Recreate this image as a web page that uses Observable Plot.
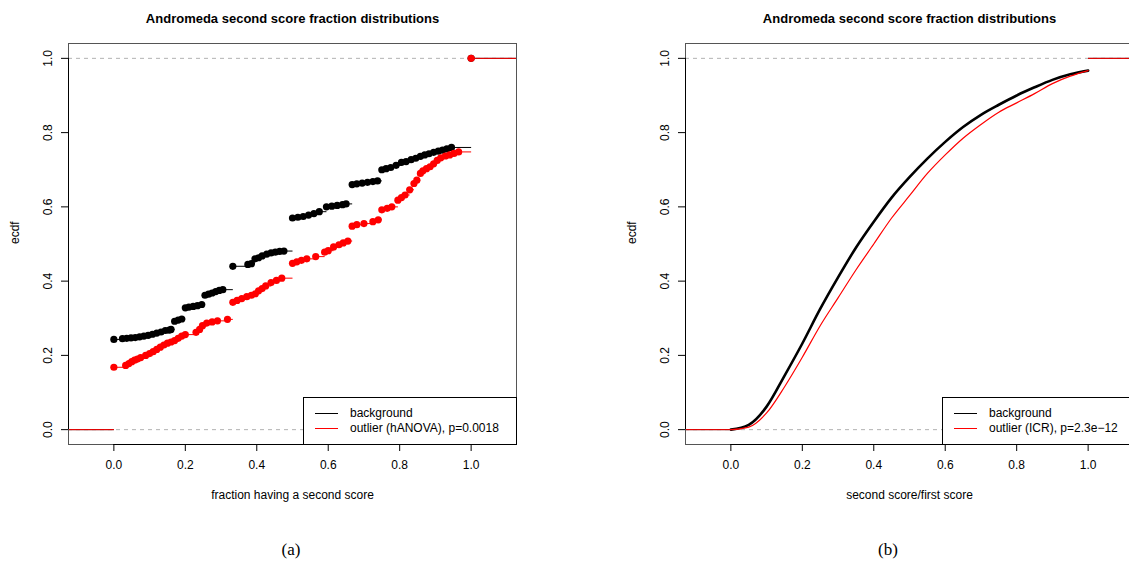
<!DOCTYPE html>
<html><head><meta charset="utf-8">
<script src="https://cdn.jsdelivr.net/npm/d3@7"></script>
<script src="https://cdn.jsdelivr.net/npm/@observablehq/plot@0.6"></script>
<style>
html,body{margin:0;padding:0;background:#fff;}
body{width:1129px;height:566px;overflow:hidden;position:relative;font-family:"Liberation Sans",Arial,sans-serif;}
.panel{position:absolute;top:0;width:564px;height:520px;}
.panel svg{max-width:none !important;width:564px;height:520px;}
.legend{position:absolute;border:1px solid #000;background:#fff;box-sizing:border-box;font-size:12px;z-index:2;}
.legend .ln{position:absolute;height:0;border-top:1px solid;}
.legend .tx{position:absolute;white-space:nowrap;line-height:14px;}
.cap{position:absolute;font-family:"Liberation Serif","Times New Roman",serif;font-size:17px;transform:translate(-50%,-50%);}
</style>
</head><body>
<script>
// ---------- data ----------
const title = "Andromeda second score fraction distributions";
const xTicks = [0, 0.2, 0.4, 0.6, 0.8, 1.0];
const yTicks = [0, 0.2, 0.4, 0.6, 0.8, 1.0];

// panel (a): ecdf of fraction having a second score
const bgX = [0.000,0.024,0.036,0.048,0.060,0.072,0.084,0.096,0.108,0.120,0.132,0.144,0.155,0.160,
  0.170,0.180,0.190,0.200,0.210,0.222,0.234,0.246,0.255,0.265,0.275,0.285,0.295,0.305,
  0.333,0.375,0.385,0.395,0.405,0.415,0.428,0.440,0.452,0.464,0.476,
  0.500,0.515,0.530,0.545,0.560,0.575,0.595,0.610,0.625,0.640,0.650,
  0.667,0.680,0.695,0.710,0.725,0.738,0.750,0.762,0.775,0.790,0.805,0.818,0.832,0.845,
  0.858,0.870,0.882,0.895,0.908,0.920,0.932,0.945,1.000];
const bgY = [0.243,0.245,0.246,0.247,0.248,0.250,0.252,0.254,0.257,0.260,0.263,0.267,0.268,0.270,
  0.292,0.295,0.298,0.328,0.330,0.332,0.334,0.337,0.362,0.365,0.368,0.372,0.375,0.377,
  0.440,0.445,0.447,0.460,0.463,0.468,0.473,0.476,0.478,0.480,0.481,
  0.570,0.572,0.574,0.578,0.582,0.587,0.600,0.602,0.604,0.606,0.608,
  0.660,0.662,0.664,0.666,0.668,0.670,0.700,0.703,0.706,0.712,0.720,0.722,0.727,0.731,
  0.736,0.740,0.743,0.747,0.750,0.753,0.756,0.760,1.000];
const outX = [0.000,0.033,0.042,0.050,0.058,0.066,0.075,0.089,0.100,0.110,0.120,0.130,0.140,0.150,
  0.160,0.170,0.180,0.190,0.200,0.230,0.240,0.248,0.260,0.275,0.290,0.318,
  0.333,0.345,0.358,0.372,0.385,0.396,0.405,0.415,0.425,0.440,0.455,0.470,
  0.500,0.512,0.525,0.540,0.565,0.590,0.600,0.615,0.630,0.642,0.655,
  0.667,0.680,0.700,0.725,0.740,0.750,0.765,0.778,0.795,0.805,0.815,0.828,0.840,0.848,
  0.858,0.865,0.875,0.885,0.895,0.905,0.915,0.928,0.940,0.952,0.965,1.000];
const outY = [0.168,0.173,0.178,0.183,0.187,0.190,0.194,0.200,0.205,0.210,0.216,0.222,0.228,0.233,
  0.236,0.240,0.246,0.252,0.256,0.262,0.270,0.280,0.287,0.290,0.293,0.297,
  0.343,0.348,0.353,0.358,0.362,0.366,0.374,0.380,0.387,0.396,0.402,0.408,
  0.448,0.452,0.456,0.460,0.466,0.478,0.482,0.492,0.498,0.503,0.508,
  0.548,0.552,0.555,0.560,0.565,0.592,0.596,0.600,0.618,0.625,0.632,0.646,0.663,0.672,
  0.690,0.697,0.703,0.708,0.716,0.725,0.732,0.737,0.740,0.744,0.748,1.000];

// panel (b): ecdf of second score / first score
const ratioX = [0.00,0.05,0.10,0.15,0.20,0.25,0.30,0.35,0.40,0.45,0.50,0.55,0.60,0.65,0.70,0.75,0.80,0.85,0.90,0.95,1.00];
const bgRatioY  = [0.000,0.013,0.062,0.145,0.232,0.325,0.410,0.490,0.560,0.625,0.680,0.730,0.775,0.815,0.848,0.875,0.900,0.922,0.942,0.957,0.967];
const outRatioY = [0.000,0.007,0.045,0.115,0.195,0.280,0.355,0.430,0.500,0.570,0.630,0.690,0.740,0.785,0.822,0.855,0.880,0.905,0.932,0.952,0.967];

const legendA = ["background", "outlier (hANOVA), p=0.0018"];
const legendB = ["background", "outlier (ICR), p=2.3e\u221212"];
const colors = ["#000000", "#ff0000"];

// ---------- helpers ----------
const xDomain = [-0.127, 1.127];
const yDomain = [-0.04, 1.04];
const W = 564, H = 520;
const fmt = d3.format(".1f");

function stepSegs(xs, ys) {
  const segs = [{x1: xDomain[0], x2: xs[0], y: 0}];
  xs.forEach((x, i) => segs.push({x1: x, x2: i < xs.length - 1 ? xs[i + 1] : xDomain[1], y: ys[i]}));
  return segs;
}
function pts(xs, ys) { return xs.map((x, i) => ({x, y: ys[i]})); }

function basePlot(marks, xlabel) {
  return Plot.plot({
    width: W, height: H,
    marginLeft: 68, marginRight: 48, marginTop: 43, marginBottom: H - 444,
    x: {domain: xDomain},
    y: {domain: yDomain},
    style: {fontSize: "12px", fontFamily: "'Liberation Sans', Arial, sans-serif", color: "#000", background: "transparent", overflow: "visible", maxWidth: "none"},
    marks: [
      Plot.ruleY([0, 1], {stroke: "#b3b3b3", strokeDasharray: "4,4"}),
      ...marks,
      Plot.frame({stroke: "#555"}),
      Plot.ruleX([xDomain[0]], {y1: 0, y2: 1, stroke: "#000"}),
      Plot.ruleY([yDomain[0]], {x1: 0, x2: 1, stroke: "#000"}),
      Plot.axisX({ticks: xTicks, tickSize: 7, tickPadding: 9, tickFormat: fmt, label: null}),
      Plot.axisY({ticks: yTicks, tickSize: 7, tickPadding: 10, tickRotate: -90, tickFormat: fmt, label: null}),
      Plot.text([title], {frameAnchor: "top", dy: -30, fontWeight: "bold", fontSize: 13}),
      Plot.text([xlabel], {frameAnchor: "bottom", dy: 54}),
      Plot.text(["ecdf"], {frameAnchor: "left", dx: -53, rotate: -90})
    ]
  });
}

function addPanel(svg, left) {
  const d = document.createElement("div");
  d.className = "panel";
  d.style.left = left + "px";
  d.appendChild(svg);
  document.body.appendChild(d);
}
function addLegend(left, width, labels) {
  const d = document.createElement("div");
  d.className = "legend";
  d.style.left = left + "px"; d.style.top = "397px";
  d.style.width = width + "px"; d.style.height = "48px";
  labels.forEach((t, i) => {
    const l = document.createElement("div");
    l.className = "ln"; l.style.borderColor = colors[i];
    l.style.left = "11px"; l.style.width = "23px"; l.style.top = (15 + 15 * i) + "px";
    d.appendChild(l);
    const s = document.createElement("div");
    s.className = "tx"; s.textContent = t;
    s.style.left = "46px"; s.style.top = (8 + 15 * i) + "px";
    d.appendChild(s);
  });
  document.body.appendChild(d);
}
function addCap(text, x) {
  const d = document.createElement("div");
  d.className = "cap"; d.textContent = text;
  d.style.left = x + "px"; d.style.top = "550px";
  document.body.appendChild(d);
}

// ---------- panel (a) ----------
const marksA = [];
[[bgX, bgY], [outX, outY]].forEach(([xs, ys], i) => {
  marksA.push(Plot.link(stepSegs(xs, ys), {x1: "x1", x2: "x2", y1: "y", y2: "y", stroke: colors[i], strokeWidth: 1}));
  marksA.push(Plot.dot(pts(xs, ys), {x: "x", y: "y", r: 3.6, fill: colors[i], stroke: "none"}));
});
addPanel(basePlot(marksA, "fraction having a second score"), 0);

// ---------- panel (b) ----------
const marksB = [];
[bgRatioY, outRatioY].forEach((ys, i) => {
  const tails = [{x1: xDomain[0], x2: ratioX[0], y: 0}, {x1: ratioX[ratioX.length - 1], x2: xDomain[1], y: 1}];
  marksB.push(Plot.link(tails, {x1: "x1", x2: "x2", y1: "y", y2: "y", stroke: colors[i], strokeWidth: 1}));
  marksB.push(Plot.line(pts(ratioX, ys), {x: "x", y: "y", stroke: colors[i], strokeWidth: i === 0 ? 2.6 : 1.2, curve: "monotone-x"}));
});
addPanel(basePlot(marksB, "second score/first score"), 617);

addLegend(303, 214, legendA);
addLegend(942, 200, legendB);
addCap("(a)", 291);
addCap("(b)", 888);
</script>
</body></html>
